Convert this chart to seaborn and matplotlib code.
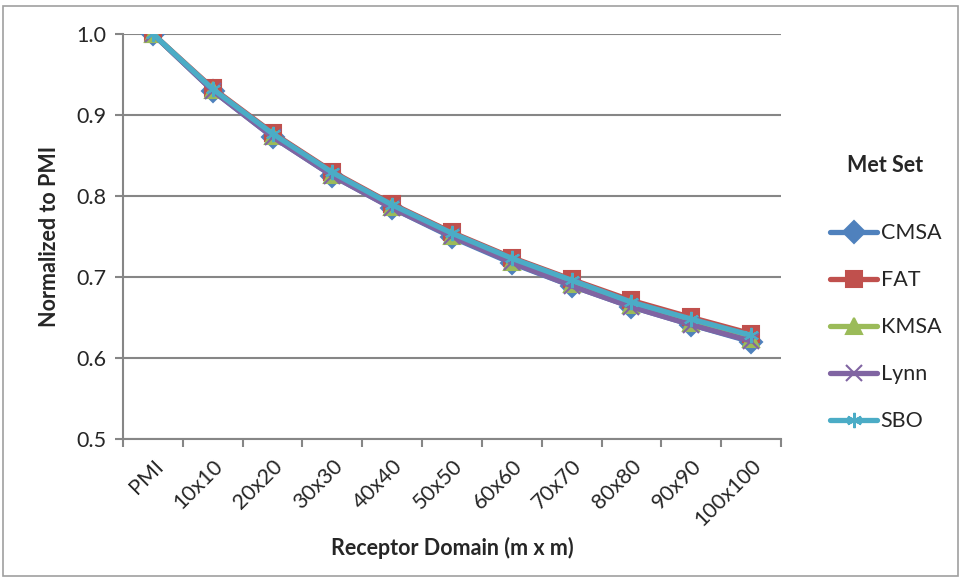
import matplotlib
matplotlib.use("Agg")
import matplotlib.pyplot as plt
import matplotlib.patches as mpatches
import seaborn as sns
import pandas as pd
import numpy as np

# receptor domain categories and normalized values per met set
domains = ['PMI', '10x10', '20x20', '30x30', '40x40', '50x50',
           '60x60', '70x70', '80x80', '90x90', '100x100']
met_sets = ['CMSA', 'FAT', 'KMSA', 'Lynn', 'SBO']

cmsa = [1.0, 0.930, 0.873, 0.825, 0.785, 0.749, 0.717, 0.689, 0.663, 0.641, 0.620]
fat = [1.0, 0.933, 0.878, 0.830, 0.790, 0.755, 0.724, 0.697, 0.671, 0.650, 0.630]
kmsa = [1.0, 0.931, 0.874, 0.826, 0.786, 0.751, 0.719, 0.691, 0.665, 0.643, 0.623]
lynn = [1.0, 0.930, 0.873, 0.825, 0.785, 0.750, 0.718, 0.689, 0.663, 0.641, 0.621]
sbo = [1.0, 0.932, 0.877, 0.829, 0.789, 0.754, 0.723, 0.696, 0.669, 0.648, 0.628]

colors = ['#4F81BD', '#C0504D', '#9BBB59', '#8064A2', '#4BACC6']
markers = ['D', 's', '^', 'x', (6, 2, 0)]

df = pd.DataFrame({
    'pos': list(range(len(domains))) * len(met_sets),
    'value': cmsa + fat + kmsa + lynn + sbo,
    'Met Set': np.repeat(met_sets, len(domains)),
})

sns.set_style('white')
plt.rcParams['font.family'] = ['Lato', 'DejaVu Sans']
fs = 15.5

fig = plt.figure(figsize=(9.61, 5.78), dpi=100)
ax = fig.add_axes([0.128, 0.2405, 0.6847, 0.7007])

for name, c, m in zip(met_sets, colors, markers):
    sub = df[df['Met Set'] == name]
    sns.lineplot(data=sub, x='pos', y='value', color=c, marker=m, ax=ax,
                 label=name, linewidth=3.8, markersize=11,
                 markeredgewidth=1.5, markeredgecolor=c)

grid_c = '#868686'
ax.set_ylim(0.5, 1.0)
ax.set_xlim(-0.5, 10.5)
ax.set_yticks([0.5, 0.6, 0.7, 0.8, 0.9, 1.0])
ax.set_yticklabels(['0.5', '0.6', '0.7', '0.8', '0.9', '1.0'], fontsize=fs)
ax.yaxis.grid(True, color=grid_c, linewidth=1.5)
ax.set_axisbelow(True)

# Excel-style category ticks at boundaries, labels at centers
ax.set_xticks(np.arange(-0.5, 11, 1.0))
ax.set_xticklabels([])
ax.set_xticks(range(len(domains)), minor=True)
ax.set_xticklabels(domains, minor=True, rotation=45, ha='right',
                   rotation_mode='anchor', fontsize=fs)
ax.tick_params(axis='x', which='major', direction='out', length=6,
               width=1.5, color=grid_c, bottom=True)
ax.tick_params(axis='x', which='minor', length=0, pad=12)
ax.tick_params(axis='y', direction='out', length=6, width=1.5,
               color=grid_c, left=True, pad=6)

for side in ['top', 'right']:
    ax.spines[side].set_visible(False)
for side in ['left', 'bottom']:
    ax.spines[side].set_color(grid_c)
    ax.spines[side].set_linewidth(1.5)

ax.set_xlabel('Receptor Domain (m x m)', fontsize=fs, fontweight='bold', labelpad=5)
ax.set_ylabel('Normalized to PMI', fontsize=fs, fontweight='bold', labelpad=12)

leg = ax.legend(title='Met Set', loc='center left', bbox_to_anchor=(1.045, 0.36),
                frameon=False, fontsize=fs, title_fontsize=fs,
                labelspacing=1.25, handlelength=2.2, handletextpad=0.15)
leg.get_title().set_fontweight('bold')
leg._legend_box.sep = 34

# outer chart border
fig.patches.append(mpatches.Rectangle((0.003, 0.003), 0.994, 0.987,
                                      transform=fig.transFigure, fill=False,
                                      edgecolor='#A0A0A0', linewidth=1.2))

fig.savefig('out.png', dpi=100)
